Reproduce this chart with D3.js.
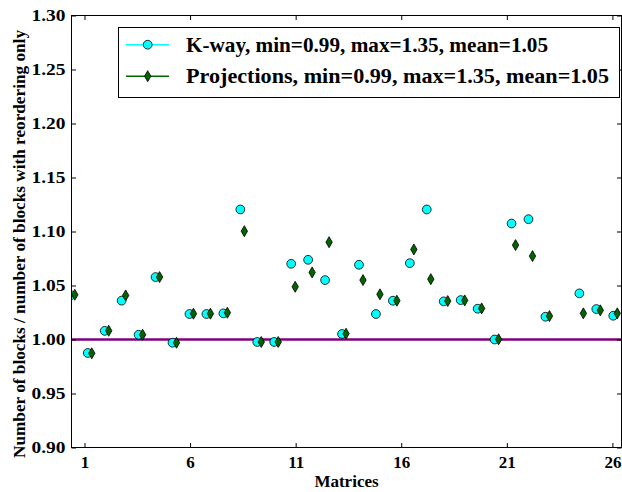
<!DOCTYPE html>
<html><head><meta charset="utf-8">
<script src="https://cdn.jsdelivr.net/npm/d3@7"></script>
<style>body{margin:0;background:#fff}svg{display:block}text{font-family:"Liberation Serif","Times New Roman",serif;font-weight:bold;fill:#000}</style>
</head><body><svg id="c" width="622" height="492"></svg>
<script>
// Data (index 29 is off-chart at 1.35)
const pointIndex = d3.range(33);
const kway = [1.041, 0.9875, 1.008, 1.036, 1.0044, 1.0578, 0.997, 1.0236, 1.0236, 1.0242, 1.1204, 0.9977, 0.9977, 1.0701, 1.0738, 1.055, 1.0051, 1.0692, 1.0236, 1.0359, 1.0707, 1.1204, 1.0353, 1.0365, 1.0285, 1.0, 1.1074, 1.1114, 1.0211, 1.35, 1.0427, 1.0282, 1.022];
const proj = [1.0414, 0.9872, 1.0081, 1.0408, 1.0044, 1.0578, 0.997, 1.0239, 1.0239, 1.0248, 1.1003, 0.9977, 0.9977, 1.0488, 1.0621, 1.0901, 1.0054, 1.055, 1.0418, 1.0359, 1.0834, 1.0559, 1.0356, 1.0362, 1.0288, 1.0002, 1.0874, 1.0772, 1.0217, 1.35, 1.0242, 1.027, 1.0242];
const xTicks = [1, 6, 11, 16, 21, 26];
const yTicks = [0.90, 0.95, 1.00, 1.05, 1.10, 1.15, 1.20, 1.25, 1.30];
const legendLabels = ["K-way, min=0.99, max=1.35, mean=1.05", "Projections, min=0.99, max=1.35, mean=1.05"];
const baseline = 1.0;

const L = 71.5, R = 621.5, T = 15.5, B = 447.5;
const FONT = "Liberation Serif";
const svg = d3.select("#c");
const xIdx = d3.scaleLinear().domain([-0.195, 32.25]).range([L, R]);
const xMat = d3.scaleLinear().domain([0.385, 26.43]).range([L, R]);
const y = d3.scaleLinear().domain([0.9, 1.3]).range([B, T]);

svg.append("clipPath").attr("id", "clip").append("rect").attr("x", L).attr("y", T).attr("width", R - L).attr("height", B - T);
const plot = svg.append("g").attr("clip-path", "url(#clip)");

plot.append("line").attr("x1", L).attr("x2", R).attr("y1", y(baseline)).attr("y2", y(baseline))
  .attr("stroke", "#800080").attr("stroke-width", 2.5);

const diamond = "M0,-5.5L3.2,0L0,5.5L-3.2,0Z";
plot.selectAll(".kw").data(pointIndex).enter().append("circle")
  .attr("cx", i => xIdx(i - 0.236)).attr("cy", i => y(kway[i])).attr("r", 4.4)
  .attr("fill", "#00ffff").attr("stroke", "#000").attr("stroke-width", 0.8);
plot.selectAll(".pr").data(pointIndex).enter().append("path")
  .attr("d", diamond).attr("transform", i => `translate(${xIdx(i)},${y(proj[i])})`)
  .attr("fill", "#006400").attr("stroke", "#000").attr("stroke-width", 0.8);

// frame
svg.append("rect").attr("x", L).attr("y", T).attr("width", R - L).attr("height", B - T)
  .attr("fill", "none").attr("stroke", "#000").attr("stroke-width", 1);

// axes with inward ticks
const ax = svg.append("g").attr("transform", `translate(0,${B})`)
  .call(d3.axisBottom(xMat).tickValues(xTicks).tickSize(-4.5).tickPadding(8).tickFormat(d3.format("d")));
const axTop = svg.append("g").attr("transform", `translate(0,${T})`)
  .call(d3.axisTop(xMat).tickValues(xTicks).tickSize(-4.5).tickFormat(""));
const ay = svg.append("g").attr("transform", `translate(${L},0)`)
  .call(d3.axisLeft(y).tickValues(yTicks).tickSize(-4.5).tickPadding(6).tickFormat(d3.format(".2f")));
const ayR = svg.append("g").attr("transform", `translate(${R},0)`)
  .call(d3.axisRight(y).tickValues(yTicks).tickSize(-4.5).tickFormat(""));
[ax, axTop, ay, ayR].forEach(g => {
  g.select(".domain").remove();
  g.selectAll(".tick line").attr("stroke", "#000").attr("stroke-width", 1);
  g.selectAll("text").attr("font-family", FONT).attr("font-weight", "bold").attr("font-size", 17).attr("fill", "#000");
});
ay.selectAll("text").attr("textLength", 34).attr("lengthAdjust", "spacingAndGlyphs");

// axis titles
svg.append("text").attr("x", (L + R) / 2).attr("y", 487).attr("text-anchor", "middle").attr("font-size", 17).text("Matrices");
svg.append("text").attr("transform", `translate(25,244) rotate(-90)`).attr("text-anchor", "middle")
  .attr("font-size", 16).attr("textLength", 428).attr("lengthAdjust", "spacingAndGlyphs")
  .text("Number of blocks / number of blocks with reordering only");

// legend
const lg = svg.append("g");
lg.append("rect").attr("x", 118.5).attr("y", 27.5).attr("width", 501).attr("height", 70)
  .attr("fill", "#fff").attr("stroke", "#000").attr("stroke-width", 1);
const rowsY = [44.7, 76.2];
const colors = ["#00ffff", "#006400"];
legendLabels.forEach((lab, k) => {
  lg.append("line").attr("x1", 126).attr("x2", 169).attr("y1", rowsY[k]).attr("y2", rowsY[k]).attr("stroke", colors[k]).attr("stroke-width", 1.5);
  if (k === 0) lg.append("circle").attr("cx", 147.7).attr("cy", rowsY[k]).attr("r", 4.4).attr("fill", colors[k]).attr("stroke", "#000").attr("stroke-width", 0.8);
  else lg.append("path").attr("d", diamond).attr("transform", `translate(147.7,${rowsY[k]})`).attr("fill", colors[k]).attr("stroke", "#000").attr("stroke-width", 0.8);
  const t = lg.append("text").attr("x", 186).attr("y", rowsY[k] + 7).attr("font-size", 21).text(lab);
  t.attr("textLength", k === 0 ? 362 : 423).attr("lengthAdjust", "spacingAndGlyphs");
});
</script></body></html>
